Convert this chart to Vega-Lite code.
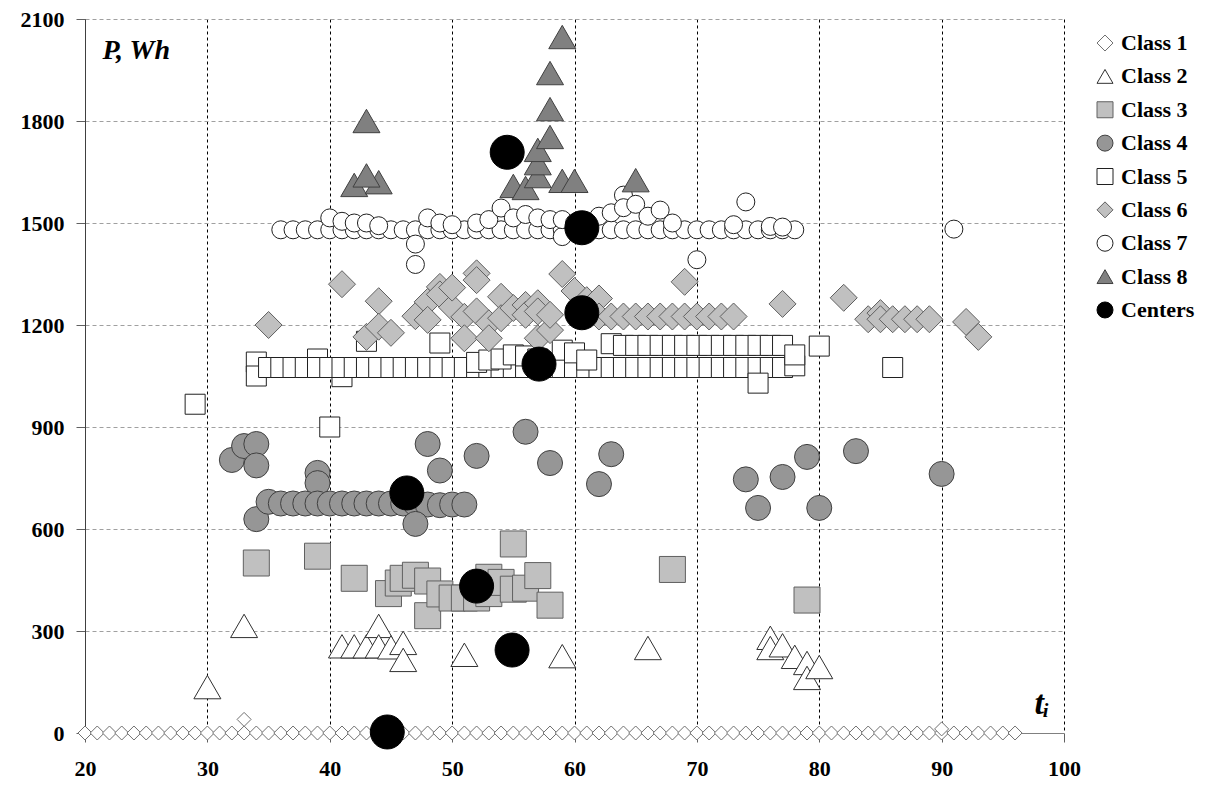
{
  "$schema": "https://vega.github.io/schema/vega-lite/v6.json",
  "autosize": {"type": "pad"},
  "padding": {"left": 20, "top": 8, "right": 0, "bottom": 0},
  "background": "white",
  "bounds": "flush",
  "spacing": 33,
  "config": {
    "view": {"stroke": null},
    "axis": {"labelFont": "Liberation Serif", "labelFontSize": 22, "labelFontWeight": "bold", "labelColor": "#000", "titleFont": "Liberation Serif", "titleFontStyle": "italic", "titleFontWeight": "bold", "titleColor": "#000", "titleAngle": 0, "titleAlign": "left", "titleBaseline": "alphabetic"}
  },
  "hconcat": [
    {
      "width": 979,
      "height": 714,
      "data": {"values": [
        {"c":"Class 1","x":20,"y":0},{"c":"Class 1","x":21,"y":0},{"c":"Class 1","x":22,"y":0},{"c":"Class 1","x":23,"y":0},{"c":"Class 1","x":24,"y":0},{"c":"Class 1","x":25,"y":0},{"c":"Class 1","x":26,"y":0},{"c":"Class 1","x":27,"y":0},{"c":"Class 1","x":28,"y":0},{"c":"Class 1","x":29,"y":0},
        {"c":"Class 1","x":30,"y":0},{"c":"Class 1","x":31,"y":0},{"c":"Class 1","x":32,"y":0},{"c":"Class 1","x":33,"y":0},{"c":"Class 1","x":34,"y":0},{"c":"Class 1","x":35,"y":0},{"c":"Class 1","x":36,"y":0},{"c":"Class 1","x":37,"y":0},{"c":"Class 1","x":38,"y":0},{"c":"Class 1","x":39,"y":0},
        {"c":"Class 1","x":40,"y":0},{"c":"Class 1","x":41,"y":0},{"c":"Class 1","x":42,"y":0},{"c":"Class 1","x":43,"y":0},{"c":"Class 1","x":44,"y":0},{"c":"Class 1","x":45,"y":0},{"c":"Class 1","x":46,"y":0},{"c":"Class 1","x":47,"y":0},{"c":"Class 1","x":48,"y":0},{"c":"Class 1","x":49,"y":0},
        {"c":"Class 1","x":50,"y":0},{"c":"Class 1","x":51,"y":0},{"c":"Class 1","x":52,"y":0},{"c":"Class 1","x":53,"y":0},{"c":"Class 1","x":54,"y":0},{"c":"Class 1","x":55,"y":0},{"c":"Class 1","x":56,"y":0},{"c":"Class 1","x":57,"y":0},{"c":"Class 1","x":58,"y":0},{"c":"Class 1","x":59,"y":0},
        {"c":"Class 1","x":60,"y":0},{"c":"Class 1","x":61,"y":0},{"c":"Class 1","x":62,"y":0},{"c":"Class 1","x":63,"y":0},{"c":"Class 1","x":64,"y":0},{"c":"Class 1","x":65,"y":0},{"c":"Class 1","x":66,"y":0},{"c":"Class 1","x":67,"y":0},{"c":"Class 1","x":68,"y":0},{"c":"Class 1","x":69,"y":0},
        {"c":"Class 1","x":70,"y":0},{"c":"Class 1","x":71,"y":0},{"c":"Class 1","x":72,"y":0},{"c":"Class 1","x":73,"y":0},{"c":"Class 1","x":74,"y":0},{"c":"Class 1","x":75,"y":0},{"c":"Class 1","x":76,"y":0},{"c":"Class 1","x":77,"y":0},{"c":"Class 1","x":78,"y":0},{"c":"Class 1","x":79,"y":0},
        {"c":"Class 1","x":80,"y":0},{"c":"Class 1","x":81,"y":0},{"c":"Class 1","x":82,"y":0},{"c":"Class 1","x":83,"y":0},{"c":"Class 1","x":84,"y":0},{"c":"Class 1","x":85,"y":0},{"c":"Class 1","x":86,"y":0},{"c":"Class 1","x":87,"y":0},{"c":"Class 1","x":88,"y":0},{"c":"Class 1","x":89,"y":0},
        {"c":"Class 1","x":90,"y":0},{"c":"Class 1","x":91,"y":0},{"c":"Class 1","x":92,"y":0},{"c":"Class 1","x":93,"y":0},{"c":"Class 1","x":94,"y":0},{"c":"Class 1","x":95,"y":0},{"c":"Class 1","x":96,"y":0},
        {"c":"Class 1","x":33,"y":40},{"c":"Class 1","x":90,"y":12},

        {"c":"Class 2","x":30,"y":135},{"c":"Class 2","x":33,"y":315},{"c":"Class 2","x":41,"y":255},{"c":"Class 2","x":42,"y":255},{"c":"Class 2","x":43,"y":255},{"c":"Class 2","x":44,"y":315},{"c":"Class 2","x":44,"y":255},{"c":"Class 2","x":45,"y":252},{"c":"Class 2","x":46,"y":265},{"c":"Class 2","x":46,"y":215},
        {"c":"Class 2","x":51,"y":230},{"c":"Class 2","x":59,"y":226},{"c":"Class 2","x":66,"y":250},{"c":"Class 2","x":76,"y":280},{"c":"Class 2","x":76,"y":250},{"c":"Class 2","x":77,"y":258},{"c":"Class 2","x":78,"y":224},{"c":"Class 2","x":79,"y":206},{"c":"Class 2","x":79,"y":162},{"c":"Class 2","x":80,"y":194},

        {"c":"Class 3","x":34,"y":500},{"c":"Class 3","x":39,"y":520},{"c":"Class 3","x":42,"y":455},{"c":"Class 3","x":44.8,"y":410},{"c":"Class 3","x":45.6,"y":441},{"c":"Class 3","x":46,"y":455},{"c":"Class 3","x":47,"y":464},{"c":"Class 3","x":48,"y":447},{"c":"Class 3","x":48,"y":345},{"c":"Class 3","x":49,"y":409},
        {"c":"Class 3","x":50,"y":397},{"c":"Class 3","x":51,"y":397},{"c":"Class 3","x":52,"y":397},{"c":"Class 3","x":53,"y":458},{"c":"Class 3","x":53,"y":410},{"c":"Class 3","x":54,"y":443},{"c":"Class 3","x":55,"y":423},{"c":"Class 3","x":55,"y":556},{"c":"Class 3","x":56,"y":426},{"c":"Class 3","x":57,"y":463},
        {"c":"Class 3","x":58,"y":376},{"c":"Class 3","x":68,"y":481},{"c":"Class 3","x":79,"y":391},

        {"c":"Class 4","x":32,"y":803},{"c":"Class 4","x":33,"y":844},{"c":"Class 4","x":34,"y":850},{"c":"Class 4","x":34,"y":787},{"c":"Class 4","x":34,"y":629},{"c":"Class 4","x":39,"y":765},{"c":"Class 4","x":39,"y":735},
        {"c":"Class 4","x":35,"y":680},{"c":"Class 4","x":36,"y":675},{"c":"Class 4","x":37,"y":675},{"c":"Class 4","x":38,"y":675},{"c":"Class 4","x":39,"y":675},{"c":"Class 4","x":40,"y":675},{"c":"Class 4","x":41,"y":675},{"c":"Class 4","x":42,"y":675},{"c":"Class 4","x":43,"y":675},{"c":"Class 4","x":44,"y":675},
        {"c":"Class 4","x":45,"y":675},{"c":"Class 4","x":46,"y":675},{"c":"Class 4","x":47,"y":675},{"c":"Class 4","x":48,"y":672},{"c":"Class 4","x":49,"y":670},{"c":"Class 4","x":50,"y":672},{"c":"Class 4","x":51,"y":672},{"c":"Class 4","x":47,"y":615},
        {"c":"Class 4","x":48,"y":850},{"c":"Class 4","x":49,"y":772},{"c":"Class 4","x":52,"y":815},{"c":"Class 4","x":56,"y":886},{"c":"Class 4","x":58,"y":794},{"c":"Class 4","x":62,"y":732},{"c":"Class 4","x":63,"y":820},{"c":"Class 4","x":74,"y":746},{"c":"Class 4","x":75,"y":662},{"c":"Class 4","x":77,"y":753},
        {"c":"Class 4","x":79,"y":812},{"c":"Class 4","x":80,"y":662},{"c":"Class 4","x":83,"y":829},{"c":"Class 4","x":90,"y":762},

        {"c":"Class 5","x":29,"y":967},{"c":"Class 5","x":40,"y":900},{"c":"Class 5","x":34,"y":1091},{"c":"Class 5","x":34,"y":1050},{"c":"Class 5","x":39,"y":1100},{"c":"Class 5","x":41,"y":1048},
        {"c":"Class 5","x":35,"y":1075},{"c":"Class 5","x":36,"y":1075},{"c":"Class 5","x":37,"y":1075},{"c":"Class 5","x":38,"y":1075},{"c":"Class 5","x":39,"y":1075},{"c":"Class 5","x":40,"y":1075},{"c":"Class 5","x":41,"y":1075},{"c":"Class 5","x":42,"y":1075},{"c":"Class 5","x":43,"y":1075},{"c":"Class 5","x":44,"y":1075},
        {"c":"Class 5","x":45,"y":1075},{"c":"Class 5","x":46,"y":1075},{"c":"Class 5","x":47,"y":1075},{"c":"Class 5","x":48,"y":1075},{"c":"Class 5","x":49,"y":1075},{"c":"Class 5","x":50,"y":1075},{"c":"Class 5","x":51,"y":1075},{"c":"Class 5","x":52,"y":1075},{"c":"Class 5","x":53,"y":1075},{"c":"Class 5","x":54,"y":1075},
        {"c":"Class 5","x":55,"y":1075},{"c":"Class 5","x":56,"y":1075},{"c":"Class 5","x":57,"y":1075},{"c":"Class 5","x":58,"y":1075},{"c":"Class 5","x":59,"y":1075},{"c":"Class 5","x":60,"y":1075},{"c":"Class 5","x":61,"y":1075},{"c":"Class 5","x":62,"y":1075},{"c":"Class 5","x":63,"y":1075},{"c":"Class 5","x":64,"y":1075},
        {"c":"Class 5","x":65,"y":1075},{"c":"Class 5","x":66,"y":1075},{"c":"Class 5","x":67,"y":1075},{"c":"Class 5","x":68,"y":1075},{"c":"Class 5","x":69,"y":1075},{"c":"Class 5","x":70,"y":1075},{"c":"Class 5","x":71,"y":1075},{"c":"Class 5","x":72,"y":1075},{"c":"Class 5","x":73,"y":1075},{"c":"Class 5","x":74,"y":1075},
        {"c":"Class 5","x":75,"y":1075},{"c":"Class 5","x":76,"y":1075},{"c":"Class 5","x":77,"y":1075},{"c":"Class 5","x":78,"y":1080},
        {"c":"Class 5","x":43,"y":1152},{"c":"Class 5","x":49,"y":1147},{"c":"Class 5","x":52,"y":1090},{"c":"Class 5","x":53,"y":1097},{"c":"Class 5","x":54,"y":1100},{"c":"Class 5","x":55,"y":1112},{"c":"Class 5","x":56,"y":1109},{"c":"Class 5","x":57,"y":1100},{"c":"Class 5","x":59,"y":1126},{"c":"Class 5","x":60,"y":1118},{"c":"Class 5","x":61,"y":1097},
        {"c":"Class 5","x":63,"y":1145},{"c":"Class 5","x":64,"y":1140},{"c":"Class 5","x":65,"y":1140},{"c":"Class 5","x":66,"y":1140},{"c":"Class 5","x":67,"y":1140},{"c":"Class 5","x":68,"y":1140},{"c":"Class 5","x":69,"y":1140},{"c":"Class 5","x":70,"y":1140},{"c":"Class 5","x":71,"y":1140},{"c":"Class 5","x":72,"y":1140},
        {"c":"Class 5","x":73,"y":1140},{"c":"Class 5","x":74,"y":1140},{"c":"Class 5","x":75,"y":1140},{"c":"Class 5","x":76,"y":1140},{"c":"Class 5","x":77,"y":1140},{"c":"Class 5","x":78,"y":1112},{"c":"Class 5","x":80,"y":1138},{"c":"Class 5","x":86,"y":1075},{"c":"Class 5","x":75,"y":1029},

        {"c":"Class 6","x":35,"y":1200},{"c":"Class 6","x":41,"y":1320},{"c":"Class 6","x":43,"y":1165},{"c":"Class 6","x":44,"y":1270},{"c":"Class 6","x":44,"y":1195},{"c":"Class 6","x":45,"y":1177},{"c":"Class 6","x":47,"y":1226},{"c":"Class 6","x":48,"y":1268},{"c":"Class 6","x":48,"y":1215},{"c":"Class 6","x":49,"y":1312},
        {"c":"Class 6","x":49,"y":1290},{"c":"Class 6","x":50,"y":1252},{"c":"Class 6","x":50,"y":1310},{"c":"Class 6","x":51,"y":1224},{"c":"Class 6","x":51,"y":1161},{"c":"Class 6","x":52,"y":1352},{"c":"Class 6","x":52,"y":1332},{"c":"Class 6","x":52,"y":1240},{"c":"Class 6","x":53,"y":1205},{"c":"Class 6","x":53,"y":1161},
        {"c":"Class 6","x":54,"y":1283},{"c":"Class 6","x":54,"y":1220},{"c":"Class 6","x":55,"y":1250},{"c":"Class 6","x":56,"y":1259},{"c":"Class 6","x":56,"y":1230},{"c":"Class 6","x":57,"y":1264},{"c":"Class 6","x":57,"y":1161},{"c":"Class 6","x":57,"y":1240},{"c":"Class 6","x":58,"y":1185},{"c":"Class 6","x":58,"y":1230},
        {"c":"Class 6","x":59,"y":1350},{"c":"Class 6","x":60,"y":1300},{"c":"Class 6","x":61,"y":1273},{"c":"Class 6","x":62,"y":1278},{"c":"Class 6","x":62,"y":1225},{"c":"Class 6","x":63,"y":1225},{"c":"Class 6","x":64,"y":1225},{"c":"Class 6","x":65,"y":1225},{"c":"Class 6","x":66,"y":1225},{"c":"Class 6","x":67,"y":1225},
        {"c":"Class 6","x":68,"y":1225},{"c":"Class 6","x":69,"y":1225},{"c":"Class 6","x":70,"y":1225},{"c":"Class 6","x":71,"y":1225},{"c":"Class 6","x":72,"y":1225},{"c":"Class 6","x":73,"y":1225},{"c":"Class 6","x":69,"y":1327},{"c":"Class 6","x":77,"y":1262},{"c":"Class 6","x":82,"y":1280},
        {"c":"Class 6","x":84,"y":1217},{"c":"Class 6","x":85,"y":1235},{"c":"Class 6","x":85,"y":1217},{"c":"Class 6","x":86,"y":1217},{"c":"Class 6","x":87,"y":1217},{"c":"Class 6","x":88,"y":1217},{"c":"Class 6","x":89,"y":1217},{"c":"Class 6","x":92,"y":1209},{"c":"Class 6","x":93,"y":1165},

        {"c":"Class 7","x":36,"y":1480},{"c":"Class 7","x":37,"y":1480},{"c":"Class 7","x":38,"y":1480},{"c":"Class 7","x":39,"y":1480},{"c":"Class 7","x":40,"y":1480},{"c":"Class 7","x":41,"y":1480},{"c":"Class 7","x":42,"y":1480},{"c":"Class 7","x":43,"y":1480},{"c":"Class 7","x":44,"y":1480},{"c":"Class 7","x":45,"y":1480},
        {"c":"Class 7","x":46,"y":1480},{"c":"Class 7","x":47,"y":1480},{"c":"Class 7","x":48,"y":1480},{"c":"Class 7","x":49,"y":1480},{"c":"Class 7","x":50,"y":1480},{"c":"Class 7","x":51,"y":1480},{"c":"Class 7","x":52,"y":1480},{"c":"Class 7","x":53,"y":1480},{"c":"Class 7","x":54,"y":1480},{"c":"Class 7","x":55,"y":1480},
        {"c":"Class 7","x":56,"y":1480},{"c":"Class 7","x":57,"y":1480},{"c":"Class 7","x":58,"y":1480},{"c":"Class 7","x":59,"y":1480},{"c":"Class 7","x":60,"y":1480},{"c":"Class 7","x":61,"y":1480},{"c":"Class 7","x":62,"y":1480},{"c":"Class 7","x":63,"y":1480},{"c":"Class 7","x":64,"y":1480},{"c":"Class 7","x":65,"y":1480},
        {"c":"Class 7","x":66,"y":1480},{"c":"Class 7","x":67,"y":1480},{"c":"Class 7","x":68,"y":1480},{"c":"Class 7","x":69,"y":1480},{"c":"Class 7","x":70,"y":1480},{"c":"Class 7","x":71,"y":1480},{"c":"Class 7","x":72,"y":1480},{"c":"Class 7","x":73,"y":1480},{"c":"Class 7","x":74,"y":1480},{"c":"Class 7","x":75,"y":1480},
        {"c":"Class 7","x":76,"y":1480},{"c":"Class 7","x":77,"y":1480},{"c":"Class 7","x":78,"y":1480},
        {"c":"Class 7","x":40,"y":1515},{"c":"Class 7","x":41,"y":1505},{"c":"Class 7","x":42,"y":1500},{"c":"Class 7","x":43,"y":1500},{"c":"Class 7","x":44,"y":1492},{"c":"Class 7","x":47,"y":1438},{"c":"Class 7","x":47,"y":1378},{"c":"Class 7","x":48,"y":1515},{"c":"Class 7","x":49,"y":1500},{"c":"Class 7","x":50,"y":1495},
        {"c":"Class 7","x":52,"y":1500},{"c":"Class 7","x":53,"y":1510},{"c":"Class 7","x":54,"y":1544},{"c":"Class 7","x":55,"y":1515},{"c":"Class 7","x":56,"y":1525},{"c":"Class 7","x":57,"y":1515},{"c":"Class 7","x":58,"y":1510},{"c":"Class 7","x":59,"y":1460},{"c":"Class 7","x":59,"y":1510},{"c":"Class 7","x":60,"y":1500},
        {"c":"Class 7","x":62,"y":1520},{"c":"Class 7","x":63,"y":1530},{"c":"Class 7","x":64,"y":1582},{"c":"Class 7","x":64,"y":1545},{"c":"Class 7","x":65,"y":1555},{"c":"Class 7","x":66,"y":1520},{"c":"Class 7","x":67,"y":1538},{"c":"Class 7","x":68,"y":1500},{"c":"Class 7","x":70,"y":1392},{"c":"Class 7","x":73,"y":1495},
        {"c":"Class 7","x":74,"y":1562},{"c":"Class 7","x":76,"y":1490},{"c":"Class 7","x":77,"y":1488},{"c":"Class 7","x":91,"y":1482},

        {"c":"Class 8","x":42,"y":1612},{"c":"Class 8","x":43,"y":1800},{"c":"Class 8","x":44,"y":1620},{"c":"Class 8","x":43,"y":1640},{"c":"Class 8","x":55,"y":1609},{"c":"Class 8","x":56,"y":1603},{"c":"Class 8","x":57,"y":1638},{"c":"Class 8","x":57,"y":1676},{"c":"Class 8","x":57,"y":1715},{"c":"Class 8","x":58,"y":1753},
        {"c":"Class 8","x":58,"y":1835},{"c":"Class 8","x":58,"y":1941},{"c":"Class 8","x":59,"y":2047},{"c":"Class 8","x":59,"y":1624},{"c":"Class 8","x":60,"y":1624},{"c":"Class 8","x":65,"y":1626},

        {"c":"Centers","x":44.7,"y":3},{"c":"Centers","x":46.3,"y":706},{"c":"Centers","x":52,"y":432},{"c":"Centers","x":54.9,"y":244},{"c":"Centers","x":57.1,"y":1085},{"c":"Centers","x":60.6,"y":1236},{"c":"Centers","x":60.6,"y":1486},{"c":"Centers","x":54.5,"y":1708}
      ]},
      "transform": [{"calculate": "datum.c", "as": "sizeClass"}],
      "mark": {"type": "point", "filled": true, "opacity": 1, "strokeWidth": 1},
      "encoding": {
        "x": {"field": "x", "type": "quantitative", "scale": {"domain": [20, 100], "nice": false, "zero": false},
          "axis": {"title": "t\u1d62", "titleFontSize": 34, "titleX": 949, "titleY": -20, "values": [20,30,40,50,60,70,80,90,100], "format": "d", "grid": true, "gridColor": "#000", "gridDash": [3,3], "gridWidth": 1, "domainColor": "#808080", "tickColor": "#606060", "tickSize": 9, "labelPadding": 16, "labelFlush": false}},
        "y": {"field": "y", "type": "quantitative", "scale": {"domain": [0, 2100], "nice": false},
          "axis": {"title": "P, Wh", "titleFontSize": 28, "titleX": 17, "titleY": 39, "values": [0,300,600,900,1200,1500,1800,2100], "format": "d", "grid": true, "gridColor": "#a0a0a0", "gridDash": [4,3], "gridWidth": 1, "domainColor": "#404040", "tickColor": "#606060", "tickSize": 9, "labelPadding": 12, "labelFlush": false}},
        "shape": {"field": "c", "type": "nominal",
          "scale": {"domain": ["Class 1","Class 2","Class 3","Class 4","Class 5","Class 6","Class 7","Class 8","Centers"],
                    "range": ["diamond","triangle-up","square","circle","square","diamond","circle","triangle-up","circle"]},
          "legend": null},
        "fill": {"field": "c", "type": "nominal",
          "scale": {"domain": ["Class 1","Class 2","Class 3","Class 4","Class 5","Class 6","Class 7","Class 8","Centers"],
                    "range": ["#ffffff","#ffffff","#c0c0c0","#969696","#ffffff","#c0c0c0","#ffffff","#808080","#000000"]},
          "legend": null},
        "stroke": {"field": "c", "type": "nominal",
          "scale": {"domain": ["Class 1","Class 2","Class 3","Class 4","Class 5","Class 6","Class 7","Class 8","Centers"],
                    "range": ["#707070","#303030","#606060","#404040","#202020","#606060","#202020","#404040","#000000"]},
          "legend": null},
        "size": {"field": "sizeClass", "type": "nominal",
          "scale": {"type": "ordinal", "domain": ["Class 1","Class 2","Class 3","Class 4","Class 5","Class 6","Class 7","Class 8","Centers"],
                    "range": [196, 729, 676, 625, 400, 729, 324, 729, 1156]},
          "legend": null}
      }
    },
    {
      "width": 16,
      "height": 315,
      "data": {"values": [
        {"c": "Class 1"}, {"c": "Class 2"}, {"c": "Class 3"}, {"c": "Class 4"}, {"c": "Class 5"},
        {"c": "Class 6"}, {"c": "Class 7"}, {"c": "Class 8"}, {"c": "Centers"}
      ]},
      "encoding": {
        "y": {"field": "c", "type": "nominal", "axis": null,
          "scale": {"type": "point", "domain": ["Class 1","Class 2","Class 3","Class 4","Class 5","Class 6","Class 7","Class 8","Centers"], "padding": 0.72}}
      },
      "layer": [
        {
          "mark": {"type": "point", "filled": true, "opacity": 1, "strokeWidth": 1, "size": 256},
          "encoding": {
            "shape": {"field": "c", "type": "nominal",
              "scale": {"domain": ["Class 1","Class 2","Class 3","Class 4","Class 5","Class 6","Class 7","Class 8","Centers"],
                        "range": ["diamond","triangle-up","square","circle","square","diamond","circle","triangle-up","circle"]},
              "legend": null},
            "fill": {"field": "c", "type": "nominal",
              "scale": {"domain": ["Class 1","Class 2","Class 3","Class 4","Class 5","Class 6","Class 7","Class 8","Centers"],
                        "range": ["#ffffff","#ffffff","#c0c0c0","#969696","#ffffff","#c0c0c0","#ffffff","#808080","#000000"]},
              "legend": null},
            "stroke": {"field": "c", "type": "nominal",
              "scale": {"domain": ["Class 1","Class 2","Class 3","Class 4","Class 5","Class 6","Class 7","Class 8","Centers"],
                        "range": ["#707070","#303030","#606060","#404040","#202020","#606060","#202020","#404040","#000000"]},
              "legend": null}
          }
        },
        {
          "mark": {"type": "text", "align": "left", "baseline": "middle", "dx": 16, "font": "Liberation Serif", "fontSize": 22, "fontWeight": "bold", "color": "#000"},
          "encoding": {"text": {"field": "c"}}
        }
      ]
    }
  ]
}
